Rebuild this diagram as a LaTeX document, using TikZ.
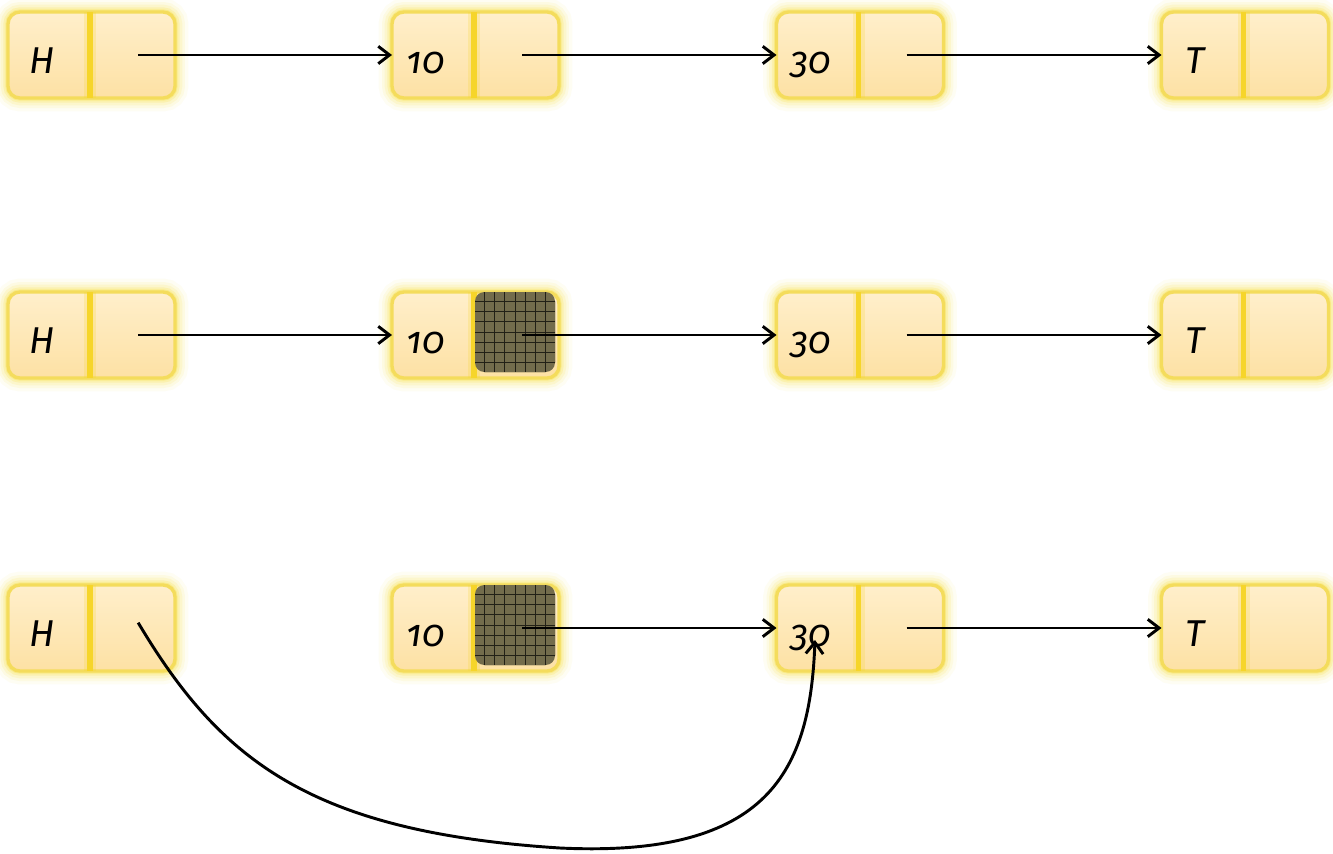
\documentclass[tikz,border=0pt]{standalone}
\usepackage{fontspec}
\setmainfont{Fira Sans}[Numbers=OldStyle]
\usetikzlibrary{arrows.meta}
\definecolor{glowy}{HTML}{F7DE3A}
\definecolor{cellfill}{HTML}{FDE1A4}
\definecolor{celltop}{HTML}{FFEFCB}
\definecolor{cellbord}{HTML}{F4DC5C}
\definecolor{divy}{HTML}{F6D52A}
\definecolor{hatchc}{HTML}{736C4C}
\tikzset{
  cellbox/.style={draw=cellbord, line width=2.5pt, rounded corners=9pt,
    minimum width=125.25pt, minimum height=64.5pt, outer sep=0pt,
    top color=celltop, bottom color=cellfill, middle color=celltop!50!cellfill},
  lbl/.style={anchor=base, font=\fontsize{28}{30}\selectfont\itshape, inner sep=0pt},
  arr/.style={-{Straight Barb[length=8.5pt,width=13pt,line width=2.2pt]}, line width=2.2pt, black},
  hatchbox/.style={fill=hatchc, rounded corners=7pt, minimum width=60pt, minimum height=60pt,
    outer sep=0pt, inner sep=0pt,
    path picture={\draw[black, line width=0.7pt, opacity=0.7]
      ([shift={(-1pt,-1pt)}]path picture bounding box.south west) grid[step=7.6pt]
      ([shift={(1pt,1pt)}]path picture bounding box.north east);}}
}
\newcommand\lcell[4]{%
  \foreach \w/\o in {20/0.06,15/0.09,11/0.13,7/0.2,4/0.3}{%
    \draw[glowy, line width=\w pt, opacity=\o, rounded corners=9pt]
      ([xshift=-62.6pt,yshift=-32.25pt]#2,#3) rectangle ([xshift=62.6pt,yshift=32.25pt]#2,#3);}
  \node[cellbox] (#1) at (#2,#3) {};
  \draw[divy, line width=9pt, opacity=0.22] ([xshift=-1.1pt]#1.north) -- ([xshift=-1.1pt]#1.south);
  \draw[divy, line width=4pt] ([xshift=-1.1pt]#1.north) -- ([xshift=-1.1pt]#1.south);
  \node[lbl] (#1-t) at ([xshift=25.5pt,yshift=-13.5pt]#1.west) {#4};
  \coordinate (#1-p) at ([xshift=35pt]#1.center);
}
\begin{document}
\begin{tikzpicture}[x=0.75pt,y=-0.75pt]
\useasboundingbox[fill=white] (0,0) rectangle (1333,853);
% row 1
\lcell{a1}{91.5}{55}{H}
\lcell{a2}{475.5}{55}{10}
\lcell{a3}{860}{55}{30}
\lcell{a4}{1245}{55}{T}
% row 2
\lcell{b1}{91.5}{335}{H}
\lcell{b2}{475.5}{335}{10}
\lcell{b3}{860}{335}{30}
\lcell{b4}{1245}{335}{T}
\node[hatchbox] (b2h) at (515,332) {};
% row 3
\lcell{c1}{91.5}{628}{H}
\lcell{c2}{475.5}{628}{10}
\lcell{c3}{860}{628}{30}
\lcell{c4}{1245}{628}{T}
\node[hatchbox] (c2h) at (515,625) {};
% arrows
\draw[arr] (a1-p) -- (a2.west);
\draw[arr] (a2-p) -- (a3.west);
\draw[arr] (a3-p) -- (a4.west);
\draw[arr] (b1-p) -- (b2.west);
\draw[arr] (b2-p) -- (b3.west);
\draw[arr] (b3-p) -- (b4.west);
\draw[arr] (c2-p) -- (c3.west);
\draw[arr] (c3-p) -- (c4.west);
\coordinate (cend) at (815,640);
\draw[arr] ([yshift=4pt]c1-p) .. controls (220,760) and (310,832) .. (560,848)
  .. controls (770,858) and (810,770) .. (cend);
\end{tikzpicture}
\end{document}
